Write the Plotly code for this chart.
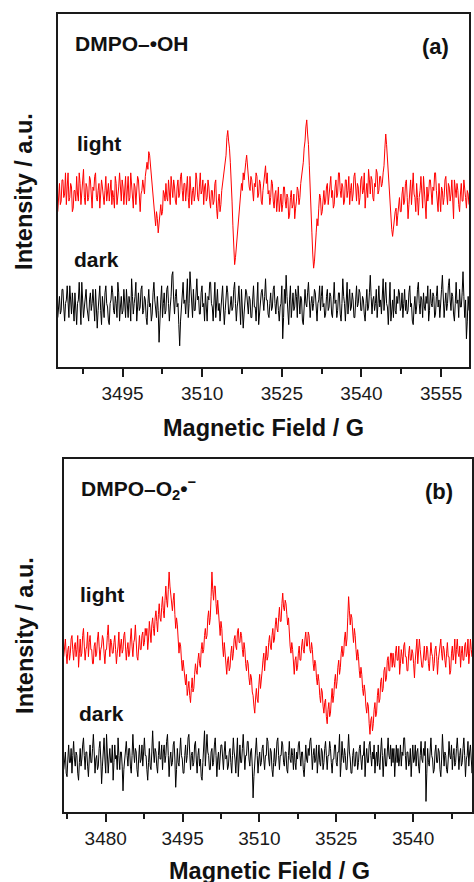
import numpy as np
import plotly.graph_objects as go

# ---------------- data (arbitrary intensity units) ----------------
field_a_start, field_a_end = 3482.8, 3560.25
field_b_start, field_b_end = 3471.8, 3552.0

light_a = [
    44, 50, 52, 46, 47, 53, 53, 48, 49, 55, 46, 51, 55, 47, 48, 52, 51, 44, 45, 50,
    50, 47, 54, 49, 47, 55, 52, 46, 49, 53, 56, 48, 46, 52, 51, 47, 48, 54, 53, 49,
    45, 51, 50, 54, 55, 48, 47, 50, 52, 45, 48, 53, 51, 47, 46, 50, 54, 47, 49, 52,
    47, 51, 53, 46, 50, 48, 45, 54, 52, 46, 48, 51, 55, 49, 47, 53, 51, 46, 49, 54,
    46, 50, 54, 47, 48, 55, 52, 47, 45, 52, 51, 46, 49, 54, 53, 48, 44, 49, 50, 53,
    51, 49, 54, 57, 58, 56, 61, 60, 57, 54, 52, 47, 45, 43, 40, 44, 42, 38, 41, 45,
    46, 43, 44, 50, 49, 47,
    52, 48, 47, 53, 50, 46, 54, 50, 48, 53, 51, 47, 46, 51,
    53, 48, 49, 54, 55, 50, 47, 52, 52, 47, 50, 54, 48, 45, 54, 51, 46, 50, 51, 47,
    49, 55, 53, 48, 47, 51, 55, 49, 50, 53, 46, 51, 52, 47, 48, 53, 51, 47, 45, 50,
    50, 46, 47, 52, 53, 45, 42, 47, 49, 44, 46, 50,
    52, 54, 55, 58, 60, 65, 67, 64, 62, 58, 54, 47, 40, 35, 29, 31, 34, 39, 42, 45,
    47, 50,
    52, 50, 55, 53, 57, 58, 60, 56, 54, 51, 50, 54, 53, 48, 47, 52, 51, 55, 54, 48,
    49, 53, 52, 47, 46, 50,
    53, 55, 57, 52, 55, 49, 50, 46, 48, 53, 52, 47, 45, 49, 50, 44, 47, 51, 44, 48,
    49, 44, 46, 51, 51, 47, 45, 49, 48, 42, 43, 48, 50, 45, 46, 49, 42, 45, 47, 51,
    50, 46, 48, 52, 54, 56, 58, 62, 64, 68, 70, 66, 63, 57, 52, 45, 38, 32, 28, 30,
    33, 38, 42, 40, 45, 49, 48, 43, 44, 49, 50, 46,
    47, 51, 52, 46, 49, 53, 54, 48, 50, 45, 46, 51, 53, 48, 49, 55, 55, 50, 48, 52,
    51, 46, 47, 53, 53, 48, 50, 54,
    46, 50, 52, 47, 49, 54, 55, 51, 47, 52, 51, 46, 48, 53, 54, 49, 50, 55, 45, 49,
    52, 48, 56, 53, 49, 54, 53, 48, 47, 52, 51, 56, 55, 49, 50, 54, 54, 51, 52, 55,
    57, 62, 66, 63, 59, 54, 50, 45, 42, 39, 37, 40, 41, 44, 45, 40, 43, 47, 48, 44,
    44, 49, 51, 46, 47, 52, 53, 48, 42, 46, 49, 53, 46, 51, 55, 49, 48, 44, 52, 48,
    43, 48, 50, 54, 47, 45, 54, 50, 45, 42, 51, 47, 49, 53, 53, 48, 46, 51, 50, 55,
    55, 50, 47, 44, 52, 48, 44, 51, 50, 46, 48, 53, 54, 49, 46, 52, 51, 47, 49, 53,
    45, 42, 53, 49, 48, 52, 50, 46, 44, 49, 52, 47, 47, 53, 51, 48, 45, 50, 49, 46,
]

dark_a = [
    14, 19, 20, 15, 16, 22, 22, 17, 13, 18, 19, 23, 17, 14, 23, 18, 15, 21, 18, 13,
    21, 16, 12, 18, 19, 24, 16, 12, 24, 19, 14, 17, 20, 22, 17, 14, 13, 19, 21, 16,
    18, 22, 15, 13, 22, 18, 11, 16, 19, 23, 16, 12, 20, 17, 14, 21, 23, 18, 17, 13,
    12, 18, 19, 23, 21, 16, 15, 20, 18, 14, 24, 21, 13, 17, 20, 15, 16, 22, 19, 14,
    22, 17, 14, 20, 18, 13, 25, 20, 15, 18, 20, 24, 13, 17, 21, 16, 17, 22, 23, 15,
    16, 20, 19, 14, 12, 18, 22, 17, 18, 13, 15, 21, 24, 19, 17, 14, 20, 16, 7, 15,
    19, 23, 14, 18, 21, 15, 16, 22, 23, 18, 13, 17, 20, 26, 27, 19, 15, 20, 22, 17,
    18, 12, 6, 13, 17, 21, 24, 18, 19, 15, 21, 25, 14, 18, 27, 21, 18, 14, 22, 16,
    16, 21, 25, 19, 20, 15, 15, 21, 23, 17, 18, 13, 21, 17, 13, 20, 19, 24, 24, 18,
    17, 13, 20, 24, 14, 19, 22, 16, 18, 13, 16, 20, 23, 17, 12, 16, 19, 23, 21, 15,
    15, 19, 20, 16, 17, 22, 24, 18, 13, 17, 19, 23, 16, 12, 22, 18, 11, 15, 18, 22,
    21, 16, 15, 20, 19, 14, 14, 19, 23, 17, 17, 13, 20, 24, 12, 16, 18, 21, 22, 17,
    16, 20, 25, 19, 19, 15, 14, 18, 21, 16, 17, 22, 23, 18, 15, 19, 20, 16, 13, 17,
    18, 23, 8, 14, 22, 18, 26, 20, 16, 12, 19, 23, 14, 18, 21, 16, 17, 22, 20, 14,
    23, 19, 15, 20, 19, 13, 12, 17, 22, 18, 17, 21, 24, 19, 14, 18, 20, 16, 18, 22,
    21, 17, 13, 18, 19, 23, 16, 20, 23, 17, 18, 14, 15, 20, 22, 16, 17, 21, 20, 15,
    14, 19, 24, 18, 19, 14, 16, 21, 21, 15, 13, 18, 25, 20, 18, 13, 20, 24, 15, 19,
    22, 16, 17, 21, 19, 14, 14, 19, 23, 17, 18, 22, 21, 16, 16, 20, 19, 15, 13, 18,
    22, 16, 17, 21, 26, 20, 15, 19, 20, 16, 18, 22, 14, 18, 23, 17, 19, 15, 21, 25,
    16, 21, 24, 18, 17, 12, 20, 24, 13, 17, 19, 14, 22, 16, 15, 20, 18, 22, 21, 16,
    17, 21, 14, 18, 22, 16, 19, 15, 16, 21, 23, 17, 18, 13, 12, 17, 20, 15, 17, 22,
    24, 18, 15, 20, 19, 14, 21, 17, 16, 20, 18, 23, 13, 16, 22, 18, 17, 21, 20, 14,
    15, 20, 23, 17, 19, 14, 17, 22, 26, 20, 14, 18, 21, 16, 18, 23, 25, 19, 16, 21,
    20, 15, 13, 18, 24, 18, 19, 14, 22, 17, 17, 21, 27, 20, 14, 19, 8, 13, 20, 16,
]

light_b = [
    44, 47, 49, 45, 42, 46, 47, 43, 45, 49, 50, 46, 43, 47, 48, 44, 46, 50, 41, 45,
    49, 44, 45, 50, 52, 47, 43, 46, 47, 51, 44, 48, 50, 46, 46, 42, 42, 47, 48, 44,
    45, 49, 51, 47, 43, 46, 47, 50, 49, 45, 42, 46, 46, 50, 53, 48, 44, 49, 48, 45,
    45, 48, 50, 46, 42, 45, 47, 51, 44, 47, 49, 45, 46, 50, 51, 47, 43, 46, 48, 44,
    45, 49, 52, 47, 44, 48, 49, 53, 47, 44, 43, 48, 50, 46, 46, 50, 51, 47, 48, 52,
    50, 52, 46, 49, 54, 51, 48, 53, 55, 52, 50, 55, 57, 54, 51, 56, 59, 55, 54, 58,
    61, 57, 55, 60,
    64, 60, 58, 63, 68, 64,
    61, 58, 57, 60, 62, 56, 52, 55, 53, 49, 45, 48, 47, 43, 40, 43, 41, 38, 36, 39,
    33, 35, 37, 33, 31, 35, 38, 34, 35, 39,
    42, 40, 39, 43, 45, 42, 41, 46, 48, 45, 46, 50, 52, 49, 50, 55, 57, 53, 55, 61,
    68, 63, 60, 64,
    64, 59, 56, 60, 57, 52, 50, 54, 52, 47, 44, 48, 45, 41, 39, 43,
    44, 40, 41, 45, 47, 43, 45, 49, 50, 47, 46, 51, 52, 48, 48, 51,
    50, 46, 44, 48, 46, 42, 40, 43, 42, 38, 36, 39, 38, 34, 33, 30, 28, 32,
    35, 32, 31, 36, 39, 35, 37, 40,
    43, 45, 40, 44, 47, 43, 44, 48, 50, 47, 46, 50, 52, 48, 49, 53, 55, 52, 51, 55,
    58, 54, 54, 59, 62, 58, 57, 60,
    59, 56, 53, 55, 50, 47, 45, 48, 46, 42, 39, 43,
    44, 40, 41, 45, 47, 43, 43, 47, 49, 46, 45, 49, 51, 47, 47, 51, 50, 46,
    45, 48, 46, 42, 40, 43, 42, 38, 36, 39, 37, 33, 31, 35, 34, 30, 28, 31, 32, 27,
    25, 29,
    31, 27, 28, 32, 35, 31, 33, 37, 39, 35, 37, 41, 43, 39, 41, 45, 47, 44, 45, 49,
    51, 47, 49, 55, 61, 57, 53, 56,
    55, 51, 48, 52, 50, 46, 43, 46, 44, 40, 38, 41, 39, 35, 33, 36, 34, 30, 28, 31,
    30, 25, 22, 26, 27, 23,
    25, 29, 31, 27, 28, 33, 35, 31, 32, 37, 38, 34, 35, 40, 41, 37, 38, 43, 44, 40,
    40, 45, 45, 41,
    45, 42, 41, 45, 47, 43, 43, 47, 39, 42, 46, 44, 42, 47, 48, 44, 44, 40, 40, 45,
    47, 43, 43, 46, 45, 42, 38, 43, 46, 49, 42, 45, 49, 46, 44, 41, 41, 45, 47, 43,
    43, 47, 46, 42, 40, 44, 48, 45, 44, 40, 42, 46, 47, 44, 39, 43, 45, 48, 49, 45,
    43, 47, 46, 43, 41, 45, 48, 44, 44, 39, 40, 45, 47, 43, 45, 49, 42, 46, 49, 45,
    44, 47, 41, 45, 47, 43, 43, 47, 48, 44, 45, 49, 42, 45, 49, 46, 44, 48, 46, 43,
]

dark_b = [
    12, 16, 17, 11, 10, 15, 19, 14, 14, 18, 11, 16, 20, 15, 13, 17, 16, 11, 9, 14,
    18, 13, 15, 19, 21, 16, 12, 17, 17, 13, 10, 15, 19, 14, 14, 18, 22, 17, 11, 15,
    16, 12, 13, 18, 20, 15, 8, 13, 17, 21, 15, 11, 22, 17, 11, 15, 18, 14, 14, 19,
    9, 14, 19, 15, 16, 12, 21, 16, 12, 17, 17, 13, 6, 12, 15, 19, 20, 16, 13, 18,
    18, 13, 11, 16, 22, 17, 14, 18, 17, 12, 10, 15, 19, 14, 15, 19, 13, 17, 21, 16,
    16, 12, 9, 14, 18, 13, 12, 17, 23, 17, 14, 18, 17, 13, 11, 16, 20, 15, 15, 19,
    12, 17, 19, 14, 16, 20, 22, 16, 10, 15, 17, 13, 14, 19, 20, 15, 7, 12, 18, 14,
    13, 17, 21, 16, 15, 11, 11, 16, 19, 14, 16, 21, 22, 17, 12, 16, 17, 13, 14, 19,
    20, 15, 11, 16, 18, 13, 15, 10, 9, 14, 19, 23, 13, 17, 22, 17, 16, 12, 12, 17,
    18, 13, 14, 19, 21, 16, 10, 15, 17, 12, 15, 19, 19, 14, 12, 17, 20, 15, 16, 12,
    13, 17, 18, 14, 11, 16, 21, 17, 15, 11, 17, 21, 10, 15, 19, 14, 14, 18, 22, 17,
    12, 16, 16, 20, 20, 15, 13, 17, 18, 13, 4, 10, 15, 19, 21, 16, 11, 15, 17, 13,
    14, 18, 19, 15, 12, 16, 16, 21, 20, 15, 13, 18, 17, 12, 10, 14, 18, 13, 15, 20,
    21, 16, 12, 16, 16, 20, 19, 14, 13, 17, 17, 12, 11, 16, 20, 15, 14, 18, 16, 12,
    18, 14, 12, 17, 15, 19, 20, 16, 13, 17, 17, 12, 10, 14, 19, 15, 14, 18, 16, 20,
    21, 17, 12, 16, 18, 14, 15, 19, 11, 15, 19, 14, 13, 18, 17, 12, 14, 18, 20, 16,
    12, 16, 16, 20, 18, 14, 11, 15, 15, 19, 19, 14, 13, 17, 17, 22, 10, 14, 20, 16,
    14, 18, 16, 12, 12, 17, 22, 17, 15, 11, 11, 16, 18, 13, 13, 17, 17, 12, 14, 18,
    19, 15, 12, 16, 16, 20, 10, 15, 18, 14, 14, 19, 20, 16, 13, 17, 15, 19, 11, 15,
    17, 13, 19, 14, 12, 17, 21, 16, 10, 15, 18, 13, 13, 17, 21, 16, 15, 19, 13, 18,
    14, 18, 10, 15, 19, 14, 18, 13, 15, 19, 13, 17, 16, 21, 21, 16, 12, 17, 17, 13,
    14, 18, 10, 15, 19, 14, 15, 19, 13, 17, 18, 13, 11, 16, 20, 15, 14, 18, 16, 20,
    3, 11, 18, 14, 13, 17, 21, 16, 15, 11, 12, 17, 19, 14, 14, 18, 17, 12, 10, 15,
    22, 17, 13, 17, 16, 12, 11, 15, 20, 16, 15, 19, 12, 16, 18, 13, 14, 18, 21, 17,
    12, 16, 18, 13, 14, 18, 21, 16, 10, 15, 16, 20, 13, 17, 19, 15, 11, 16, 15, 19,
]

ticks_a = [3495, 3510, 3525, 3540, 3555]
ticks_b = [3480, 3495, 3510, 3525, 3540]

# ---------------- figure ----------------
W, H = 474, 882
FONT = "Liberation Sans, Arial, sans-serif"

field_a = np.linspace(field_a_start, field_a_end, len(light_a))
field_a_d = np.linspace(field_a_start, field_a_end, len(dark_a))
field_b = np.linspace(field_b_start, field_b_end, len(light_b))
field_b_d = np.linspace(field_b_start, field_b_end, len(dark_b))

fig = go.Figure()
fig.add_trace(go.Scatter(x=field_a, y=light_a, mode="lines", line=dict(color="#ff0000", width=1),
                         xaxis="x", yaxis="y", name="light"))
fig.add_trace(go.Scatter(x=field_a_d, y=dark_a, mode="lines", line=dict(color="#000000", width=1),
                         xaxis="x", yaxis="y", name="dark"))
fig.add_trace(go.Scatter(x=field_b, y=light_b, mode="lines", line=dict(color="#ff0000", width=1),
                         xaxis="x2", yaxis="y2", name="light"))
fig.add_trace(go.Scatter(x=field_b_d, y=dark_b, mode="lines", line=dict(color="#000000", width=1),
                         xaxis="x2", yaxis="y2", name="dark"))

def px(x):
    return x / W

def py(y):
    return 1 - y / H

axis_common = dict(showline=True, linecolor="#1a1a1a", linewidth=2, mirror=True,
                   showgrid=False, zeroline=False)

fig.update_layout(
    width=W, height=H, autosize=False,
    margin=dict(l=0, r=0, t=0, b=0, pad=0),
    paper_bgcolor="white", plot_bgcolor="white",
    showlegend=False,
    font=dict(family=FONT, color="#1a1a1a"),
    xaxis=dict(domain=[px(58), px(471)], range=[field_a_start, field_a_end], anchor="y",
               tickmode="array", tickvals=ticks_a, ticks="outside", ticklen=8, tickwidth=2,
               tickcolor="#1a1a1a", tickfont=dict(size=19, family=FONT, color="#1a1a1a"),
               minor=dict(tickmode="linear", tick0=3487.5, dtick=15, ticks="outside", ticklen=5,
                          tickwidth=2, tickcolor="#1a1a1a"),
               **axis_common),
    yaxis=dict(domain=[py(367), py(14)], range=[0, 100], anchor="x",
               showticklabels=False, ticks="", **axis_common),
    xaxis2=dict(domain=[px(64), 1.0], range=[field_b_start, 3551.5], anchor="y2",
                tickmode="array", tickvals=ticks_b, ticks="outside", ticklen=8, tickwidth=2,
                tickcolor="#1a1a1a", tickfont=dict(size=19, family=FONT, color="#1a1a1a"),
                minor=dict(tickmode="linear", tick0=3472.5, dtick=15, ticks="outside", ticklen=5,
                           tickwidth=2, tickcolor="#1a1a1a"),
                **axis_common),
    yaxis2=dict(domain=[py(812), py(459)], range=[0, 100], anchor="x2",
                showticklabels=False, ticks="", **axis_common),
)

def label(text, x, y, size, xanchor="left", angle=0):
    fig.add_annotation(text=text, x=px(x), y=py(y), xref="paper", yref="paper",
                       xanchor=xanchor, yanchor="middle", showarrow=False, textangle=angle,
                       font=dict(family=FONT, size=size, color="#111111"))

# panel (a)
label("<b>DMPO–•OH</b>", 73, 43, 21)
label("<b>(a)</b>", 453, 46, 22, xanchor="right")
label("<b>light</b>", 75, 143, 21)
label("<b>dark</b>", 72, 259, 21)
label("<b>Magnetic Field / G</b>", 264.5, 428, 23.5, xanchor="center")
label("<b>Intensity / a.u.</b>", 24, 191, 23.5, xanchor="center", angle=-90)

# panel (b)
label("<b>DMPO–O<sub>2</sub>•<sup>−</sup></b>", 79, 489, 21)
label("<b>(b)</b>", 457, 492, 22, xanchor="right")
label("<b>light</b>", 78, 594, 21)
label("<b>dark</b>", 77, 713, 21)
label("<b>Magnetic Field / G</b>", 271, 871, 23.5, xanchor="center")
label("<b>Intensity / a.u.</b>", 25, 635, 23.5, xanchor="center", angle=-90)

fig.write_html(
    "out.html",
    config={"displayModeBar": False, "responsive": False},
    post_script="document.documentElement.style.margin='0';document.body.style.margin='0';",
)
